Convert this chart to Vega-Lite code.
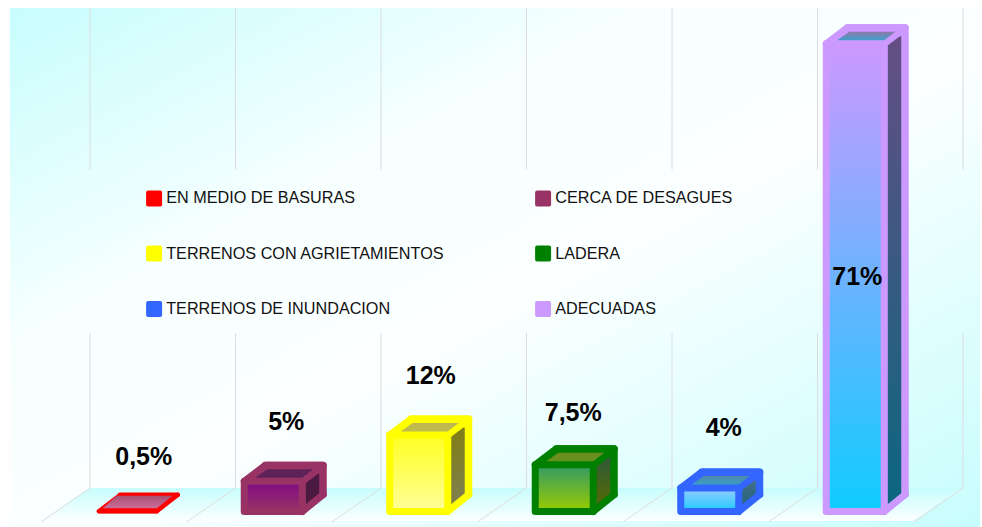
{
"$schema":"https://vega.github.io/schema/vega-lite/v6.json",
"width":970,"height":519,"autosize":"none",
"padding":{"left":10,"top":8,"right":2,"bottom":0},
"background":"#ffffff",
"view":{"stroke":null,"fill":{"gradient":"linear","x1":0,"y1":0,"x2":1,"y2":1,"stops":[{"offset":0,"color":"#c8fdfd"},{"offset":0.33,"color":"#f8ffff"},{"offset":0.55,"color":"#fbffff"},{"offset":1,"color":"#c8fdfd"}]}},
"params":[
{"name":"border","expr":"{'EN MEDIO DE BASURAS':'#ff0000','CERCA DE DESAGUES':'#993366','TERRENOS CON AGRIETAMIENTOS':'#ffff00','LADERA':'#008000','TERRENOS DE INUNDACION':'#3366ff','ADECUADAS':'#cc99ff'}"},
{"name":"frontTop","expr":"{'EN MEDIO DE BASURAS':'#ff0000','CERCA DE DESAGUES':'#800a85','TERRENOS CON AGRIETAMIENTOS':'#ffff22','LADERA':'#339966','TERRENOS DE INUNDACION':'#99ccff','ADECUADAS':'#cc99ff'}"},
{"name":"frontBot","expr":"{'EN MEDIO DE BASURAS':'#ff0000','CERCA DE DESAGUES':'#993366','TERRENOS CON AGRIETAMIENTOS':'#ffff99','LADERA':'#99cc00','TERRENOS DE INUNDACION':'#1ccbff','ADECUADAS':'#0fccff'}"},
{"name":"sideTop","expr":"{'EN MEDIO DE BASURAS':'#ff0000','CERCA DE DESAGUES':'#4a1a48','TERRENOS CON AGRIETAMIENTOS':'#7f7f14','LADERA':'#2f5a38','TERRENOS DE INUNDACION':'#456f92','ADECUADAS':'#654e84'}"},
{"name":"sideBot","expr":"{'EN MEDIO DE BASURAS':'#ff0000','CERCA DE DESAGUES':'#4a1a40','TERRENOS CON AGRIETAMIENTOS':'#807f48','LADERA':'#4d6610','TERRENOS DE INUNDACION':'#30687e','ADECUADAS':'#0d6680'}"},
{"name":"topBack","expr":"{'EN MEDIO DE BASURAS':'#a85070','CERCA DE DESAGUES':'#5e2256','TERRENOS CON AGRIETAMIENTOS':'#bdb650','LADERA':'#6f8a22','TERRENOS DE INUNDACION':'#4f88ad','ADECUADAS':'#8d78aa'}"},
{"name":"topFront","expr":"{'EN MEDIO DE BASURAS':'#cb6d9a','CERCA DE DESAGUES':'#5e2258','TERRENOS CON AGRIETAMIENTOS':'#c2bc4c','LADERA':'#64921c','TERRENOS DE INUNDACION':'#3a9fc0','ADECUADAS':'#3f9fcc'}"},
{"name":"labelDx","expr":"{'0,5%':16,'5%':13,'12%':12,'7,5%':9,'4%':14,'71%':2}"},
{"name":"labelDy","expr":"{'0,5%':-54.2,'5%':-59.4,'12%':-59,'7,5%':-51.8,'4%':-60,'71%':233.2}"}
],
"data":{"values":[
{"cat":"EN MEDIO DE BASURAS","value":0.5,"label":"0,5%"},
{"cat":"CERCA DE DESAGUES","value":5,"label":"5%"},
{"cat":"TERRENOS CON AGRIETAMIENTOS","value":12,"label":"12%"},
{"cat":"LADERA","value":7.5,"label":"7,5%"},
{"cat":"TERRENOS DE INUNDACION","value":4,"label":"4%"},
{"cat":"ADECUADAS","value":71,"label":"71%"}
]},
"encoding":{
"x":{"field":"cat","type":"nominal","sort":null,"axis":null,"scale":{"type":"band","domain":["EN MEDIO DE BASURAS","CERCA DE DESAGUES","TERRENOS CON AGRIETAMIENTOS","LADERA","TERRENOS DE INUNDACION","ADECUADAS"],"range":[45,918],"paddingInner":0,"paddingOuter":0}},
"y":{"field":"value","type":"quantitative","axis":null,"stack":null,"scale":{"domain":[-1.885,76.4],"nice":false,"zero":false}}
},
"layer":[
{"transform":[{"filter":"datum.cat=='TERRENOS CON AGRIETAMIENTOS'"}],
 "mark":{"type":"point","filled":true,"opacity":1,"size":4,"strokeWidth":0,"shape":"M-329.5,-26.5L543.5,-26.5L494.5,6.5L-378.5,6.5Z","fill":{"gradient":"linear","x1":0,"y1":0,"x2":0,"y2":1,"stops":[{"offset":0,"color":"#c8fdfd"},{"offset":1,"color":"#fbffff"}]}},
 "encoding":{"y":{"datum":0}}},
{"mark":{"type":"point","filled":false,"opacity":1,"size":4,"stroke":"#dcdcdc","strokeWidth":1,"shape":"M35,-26.5L-14,7.5M35,-181.5L35,-26.5M35,-506.5L35,-345"},
 "encoding":{"x":{"field":"cat","type":"nominal","bandPosition":0},"y":{"datum":0}}},
{"transform":[{"filter":"datum.cat=='ADECUADAS'"}],
 "mark":{"type":"point","filled":false,"opacity":1,"size":4,"stroke":"#dcdcdc","strokeWidth":1,"shape":"M35,-26.5L-14,7.5M35,-181.5L35,-26.5M35,-506.5L35,-345"},
 "encoding":{"x":{"field":"cat","type":"nominal","bandPosition":1},"y":{"datum":0}}},
{"mark":{"type":"bar","width":58,"xOffset":21,"yOffset":-16,"y2Offset":-20,"strokeJoin":"round","stroke":{"expr":"border[datum.cat]"},"strokeWidth":{"expr":"datum.value<1?4:7"}},
 "encoding":{"y2":{"datum":0},
  "color":{"field":"cat","type":"nominal","sort":null,"scale":{"domain":["EN MEDIO DE BASURAS","CERCA DE DESAGUES","TERRENOS CON AGRIETAMIENTOS","LADERA","TERRENOS DE INUNDACION","ADECUADAS"],"range":["#ff0000","#993366","#ffff00","#008000","#3366ff","#cc99ff"]},
   "legend":{"title":null,"orient":"none","legendX":136,"legendY":182,"direction":"horizontal","columns":2,"columnPadding":90,"rowPadding":38.5,"gridAlign":"each","symbolType":"M-0.75,-1H0.75Q1,-1 1,-0.75V0.75Q1,1 0.75,1H-0.75Q-1,1 -1,0.75V-0.75Q-1,-1 -0.75,-1Z","symbolSize":256,"symbolStrokeWidth":0,"symbolOpacity":1,"labelFont":"Liberation Sans","labelFontSize":16.2,"labelColor":"#111111","labelLimit":400,"labelOffset":4,
    "encoding":{"labels":{"enter":{"dy":{"value":2}}}}}}}},
{"transform":[{"filter":"datum.value>=1"}],
 "mark":{"type":"bar","width":14,"xOffset":39,"yOffset":-7.5,"y2Offset":-20,"fill":{"expr":"{gradient:'linear',x1:0,y1:0,x2:0,y2:1,stops:[{offset:0,color:sideTop[datum.cat]},{offset:1,color:sideBot[datum.cat]}]}"}},
 "encoding":{"y2":{"datum":0}}},
{"transform":[{"filter":"datum.value>=1"}],
 "mark":{"type":"point","filled":true,"opacity":1,"size":4,"strokeWidth":0,"shape":"M32,-20.5L46,-20.5L46,-16.8L32,-5Z","fill":{"expr":"sideBot[datum.cat]"}},
 "encoding":{"y":{"datum":0}}},
{"mark":{"type":"point","filled":true,"opacity":1,"size":4,"shape":"M-29,0L29,0L50,-16L-8,-16Z","strokeJoin":"round","fill":{"expr":"border[datum.cat]"},"stroke":{"expr":"border[datum.cat]"},"strokeWidth":{"expr":"datum.value<1?4:7"}}},
{"mark":{"type":"point","filled":false,"opacity":1,"size":4,"shape":"M29,-3L50,-20","strokeCap":"round","stroke":{"expr":"border[datum.cat]"},"strokeWidth":{"expr":"datum.value<1?4:7"}},
 "encoding":{"y":{"datum":0}}},
{"mark":{"type":"bar","width":58,"y2Offset":-3,"strokeJoin":"round","stroke":{"expr":"border[datum.cat]"},"strokeWidth":{"expr":"datum.value<1?4:7"},"fill":{"expr":"{gradient:'linear',x1:0,y1:0,x2:0,y2:1,stops:[{offset:0,color:frontTop[datum.cat]},{offset:1,color:frontBot[datum.cat]}]}"}},
 "encoding":{"y2":{"datum":0}}},
{"transform":[{"filter":"datum.value>=1"}],
 "mark":{"type":"point","filled":true,"opacity":1,"size":4,"strokeWidth":0,"shape":"M-18,-3.5L29,-3.5L40,-12L-6,-12Z","fill":{"expr":"{gradient:'linear',x1:0,y1:0,x2:0,y2:1,stops:[{offset:0,color:topBack[datum.cat]},{offset:1,color:topFront[datum.cat]}]}"}}},
{"transform":[{"filter":"datum.value<1"}],
 "mark":{"type":"point","filled":true,"opacity":1,"size":4,"strokeWidth":0,"shape":"M-25,-3L29,-3L45,-15.5L-11,-15.5Z","fill":{"expr":"{gradient:'linear',x1:0,y1:0,x2:0,y2:1,stops:[{offset:0,color:topBack[datum.cat]},{offset:1,color:topFront[datum.cat]}]}"}}},
{"mark":{"type":"text","font":"Liberation Sans","fontWeight":"bold","fontSize":25,"color":"#000000","baseline":"middle","align":"center","dx":{"expr":"labelDx[datum.label]"},"dy":{"expr":"labelDy[datum.label]"}},
 "encoding":{"text":{"field":"label","type":"nominal"}}}
]
}
